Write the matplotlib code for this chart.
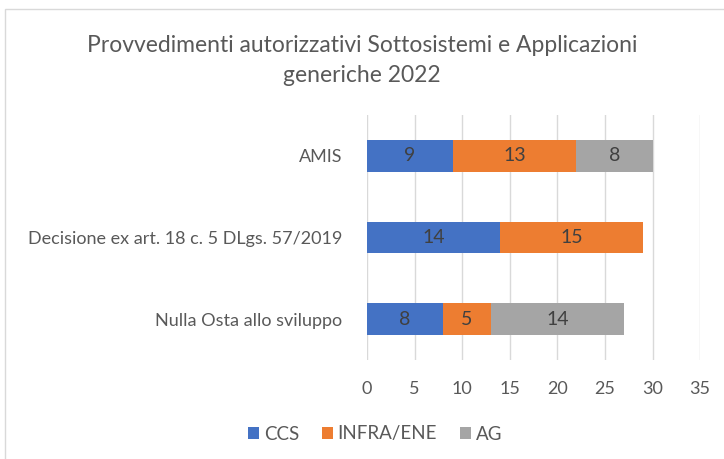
import numpy as np
import matplotlib.pyplot as plt
from matplotlib.patches import Rectangle

categorie = ["Nulla Osta allo sviluppo", "Decisione ex art. 18 c. 5 DLgs. 57/2019", "AMIS"]
ccs = [8, 14, 9]
infra_ene = [5, 15, 13]
ag = [14, 0, 8]

serie = ["CCS", "INFRA/ENE", "AG"]
colori = ["#4472C4", "#ED7D31", "#A5A5A5"]
testo = "#595959"

plt.rcParams['font.family'] = ['Lato', 'DejaVu Sans']

fig = plt.figure(figsize=(7.24, 4.59), dpi=100)
ax = fig.add_axes([0.507, 0.2157, 0.46, 0.5338])

y = np.arange(len(categorie))
left = np.zeros(len(categorie))
for nome, valori, col in zip(serie, [ccs, infra_ene, ag], colori):
    valori = np.array(valori)
    bars = ax.barh(y, valori, left=left, height=0.39, color=col, label=nome, zorder=3)
    for b, v in zip(bars, valori):
        if v > 0:
            ax.text(b.get_x() + b.get_width() / 2, b.get_y() + b.get_height() / 2, str(v),
                    ha="center", va="center", fontsize=14, color="#404040", zorder=4)
    left += valori

ax.set_xlim(0, 35)
ax.set_ylim(-0.5, 2.5)
ax.set_xticks(np.arange(0, 36, 5))
ax.set_yticks(y)
ax.set_yticklabels(categorie)
ax.grid(axis="x", color="#D9D9D9", linewidth=1, zorder=0)
for s in ax.spines.values():
    s.set_visible(False)
ax.tick_params(axis="both", length=0, labelsize=13, colors=testo)
ax.tick_params(axis="y", pad=18)
ax.tick_params(axis="x", pad=15)

fig.text(0.5, 0.869, "Provvedimenti autorizzativi Sottosistemi e Applicazioni\ngeneriche 2022",
         ha="center", va="center", fontsize=16.5, color=testo, linespacing=1.52)

ax.legend(loc="center", bbox_to_anchor=(375 / 724, 1 - 434 / 459), bbox_transform=fig.transFigure,
          ncol=3, frameon=False, fontsize=13.5, labelcolor=testo, handlelength=0.6, handleheight=0.6,
          handletextpad=0.25, columnspacing=1.2)

fig.patches.append(Rectangle((5 / 724, -0.1), 1.2, 1 - 9 / 459 + 0.1, transform=fig.transFigure,
                             fill=False, edgecolor="#D9D9D9", linewidth=1))

fig.savefig("out.png", dpi=100)
